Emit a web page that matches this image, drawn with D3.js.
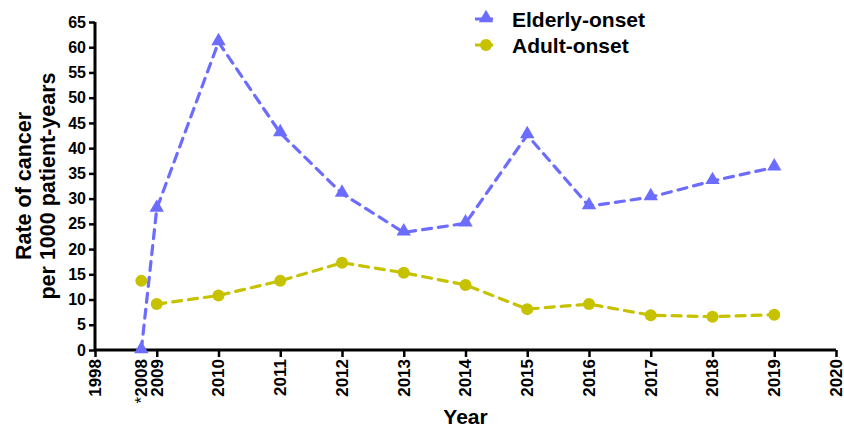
<!DOCTYPE html>
<html><head><meta charset="utf-8">
<script src="https://cdn.jsdelivr.net/npm/d3@7"></script>
<style>body{margin:0;background:#fff}svg{display:block}text{font-family:"Liberation Sans",Arial,sans-serif;font-weight:bold}</style>
</head><body><svg id="c" width="844" height="427"></svg>
<script>
// Data
const xPositions = [2008.75, 2009, 2010, 2011, 2012, 2013, 2014, 2015, 2016, 2017, 2018, 2019];
const elderlyOnset = [0, 28, 61, 43, 31, 23.3, 25.1, 42.6, 28.5, 30.3, 33.5, 36.2];
const adultOnset = [13.7, 9.1, 10.8, 13.7, 17.3, 15.3, 12.9, 8.1, 9.1, 6.9, 6.6, 7.0];
const xTickValues = [2008, 2009, 2010, 2011, 2012, 2013, 2014, 2015, 2016, 2017, 2018, 2019, 2020];
const xTickLabels = ["1998", "2009", "2010", "2011", "2012", "2013", "2014", "2015", "2016", "2017", "2018", "2019", "2020"];
const yTickValues = [0, 5, 10, 15, 20, 25, 30, 35, 40, 45, 50, 55, 60, 65];
const seriesNames = ["Elderly-onset", "Adult-onset"];

const blue = "#6c6cff", olive = "#c6c200";
const svg = d3.select("#c");
const x = d3.scaleLinear().domain([2008, 2020]).range([95, 836]);
const y = d3.scaleLinear().domain([0, 65]).range([350, 22]);

// Y axis
const ya = svg.append("g").attr("transform", "translate(95,0)")
  .call(d3.axisLeft(y).tickValues(yTickValues).tickSize(6).tickPadding(3));
ya.select(".domain").attr("stroke", "#000").attr("stroke-width", 3).attr("d", `M0,${y(65)}V${y(0)}`);
ya.selectAll(".tick line").attr("stroke", "#000").attr("stroke-width", 2.5);
ya.selectAll(".tick text").attr("font-size", 16).attr("fill", "#000");

// X axis
const xa = svg.append("g").attr("transform", "translate(0,350)")
  .call(d3.axisBottom(x).tickValues(xTickValues).tickFormat((d, i) => xTickLabels[i]).tickSize(7));
xa.select(".domain").attr("stroke", "#000").attr("stroke-width", 3).attr("d", `M${x(2008)},0H${x(2020)}`);
xa.selectAll(".tick line").attr("stroke", "#000").attr("stroke-width", 2.5);
xa.selectAll(".tick text").attr("font-size", 17).attr("fill", "#000")
  .attr("transform", "rotate(-90)").attr("text-anchor", "end")
  .attr("x", -9).attr("y", 0).attr("dy", "0.32em");
// special *2008 label (no tick)
const sp = svg.append("text").attr("font-size", 17).attr("text-anchor", "end")
  .attr("transform", `translate(${x(xPositions[0])},359) rotate(-90)`).attr("dy", "0.36em");
sp.append("tspan").text("*").attr("font-weight", "normal").attr("font-size", 17);
sp.append("tspan").text("2008");

// Axis titles
svg.append("text").attr("x", x(2014)).attr("y", 424).attr("text-anchor", "middle").attr("font-size", 21).text("Year");
const yt = svg.append("text").attr("transform", `translate(0,${y(32.5)}) rotate(-90)`).attr("text-anchor", "middle").attr("font-size", 21.5);
yt.append("tspan").attr("x", 0).attr("y", 31).text("Rate of cancer");
yt.append("tspan").attr("x", 0).attr("y", 55).text("per 1000 patient-years");

const line = d3.line().x(d => x(d[0])).y(d => y(d[1]));
const elderly = xPositions.map((p, i) => [p, elderlyOnset[i]]);
const adult = xPositions.map((p, i) => [p, adultOnset[i]]);

svg.append("path").attr("d", line(elderly)).attr("fill", "none").attr("stroke", blue)
  .attr("stroke-width", 3.2).attr("stroke-dasharray", "9,7").attr("stroke-linecap", "round");
svg.append("path").attr("d", line(adult.slice(1))).attr("fill", "none").attr("stroke", olive)
  .attr("stroke-width", 3.2).attr("stroke-dasharray", "9,7").attr("stroke-linecap", "round");

const tri = d3.symbol().type(d3.symbolTriangle).size(90);
svg.selectAll(".tri").data(elderly).join("path").attr("class", "tri")
  .attr("transform", d => `translate(${x(d[0])},${y(d[1]) - 1})`).attr("d", tri).attr("fill", blue);
svg.selectAll(".dot").data(adult).join("circle").attr("class", "dot")
  .attr("cx", d => x(d[0])).attr("cy", d => y(d[1])).attr("r", 6).attr("fill", olive);

// Legend
const lg = [{name: seriesNames[0], color: blue, sym: "tri", yy: 19}, {name: seriesNames[1], color: olive, sym: "dot", yy: 45}];
lg.forEach(d => {
  svg.append("line").attr("x1", 475).attr("x2", 497).attr("y1", d.yy).attr("y2", d.yy)
    .attr("stroke", d.color).attr("stroke-width", 3.2).attr("stroke-dasharray", "7,4");
  if (d.sym === "tri") svg.append("path").attr("d", tri).attr("transform", `translate(486,${d.yy - 1})`).attr("fill", d.color);
  else svg.append("circle").attr("cx", 486).attr("cy", d.yy).attr("r", 6).attr("fill", d.color);
  svg.append("text").attr("x", 512).attr("y", d.yy).attr("dy", "0.36em").attr("font-size", 21).text(d.name);
});
</script></body></html>
